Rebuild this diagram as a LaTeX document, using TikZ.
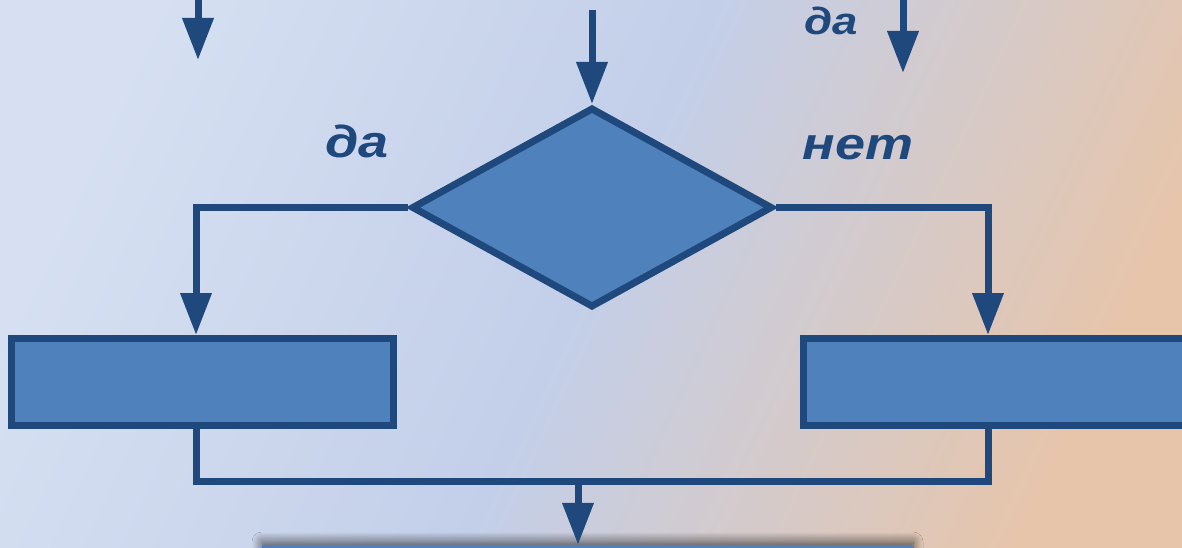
\documentclass[tikz,border=0pt]{standalone}
\usepackage{fontspec}
\setmainfont{Liberation Sans}
\newfontfamily\answerfont{Liberation Sans}[FakeStretch=1.2]
\usetikzlibrary{arrows.meta,shapes.geometric,shadows.blur}
\definecolor{lineblue}{HTML}{1F497D}
\definecolor{fillblue}{HTML}{4F81BD}
\definecolor{bgleft}{HTML}{D6E0F2}
\definecolor{bgmid}{HTML}{C3CFE9}
\definecolor{bgright}{HTML}{E7C5AA}
\begin{document}
\begin{tikzpicture}[x=1pt, y=-1pt, >={Triangle[length=42pt,width=30pt]},
    line/.style={draw=lineblue, line width=7pt},
    blockbox/.style={line, fill=fillblue, minimum width=382pt, minimum height=87pt, inner sep=0pt},
    cond/.style={line, fill=fillblue, diamond, minimum width=361pt, minimum height=200pt, inner sep=0pt},
    answer/.style={text=lineblue, font=\answerfont\fontsize{45}{50}\selectfont\bfseries\itshape, anchor=base}]
\useasboundingbox (0,0) rectangle (1182,548);
\clip (0,0) rectangle (1182,548);
\shade[left color=bgleft, right color=bgright, middle color=bgmid, shading angle=65] (-20,-20) rectangle (1202,568);
\node[cond] (dec) at (592,207.5) {};
\node[blockbox] (yes) at (202.5,382) {};
\node[blockbox] (no) at (994.5,382) {};
\node[fill=fillblue, minimum width=651pt, minimum height=80pt, inner sep=0pt,
    blur shadow={shadow xshift=0pt, shadow yshift=3pt, shadow blur radius=10pt, shadow opacity=65, shadow blur steps=12}] (last) at (587.5,585) {};
\coordinate (inA) at (198,-10);
\coordinate (outA) at (198,60);
\coordinate (inB) at (903,-10);
\coordinate (outB) at (903,73);
\coordinate (inC) at (592,10);
\coordinate (join) at (578,481);
\draw[line,->] (inA)--(outA);
\draw[line,->] (inB)--(outB);
\draw[line,->] (inC)--(dec.north);
\draw[line,->] (dec.west) -| ([xshift=-6.5pt]yes.north);
\draw[line,->] (dec.east) -| ([xshift=-6.5pt]no.north);
\draw[line] ([xshift=-6.5pt]yes.south) |- (join) -| ([xshift=-6.5pt]no.south);
\draw[line,->] (join)--(join |- last.north);
\node[answer] (yesA) at (357,158) {да};
\node[answer] (noA) at (858,160) {нет};
\node[answer, font=\answerfont\fontsize{38}{44}\selectfont\bfseries\itshape] (yesB) at (831,35) {да};
\end{tikzpicture}
\end{document}
